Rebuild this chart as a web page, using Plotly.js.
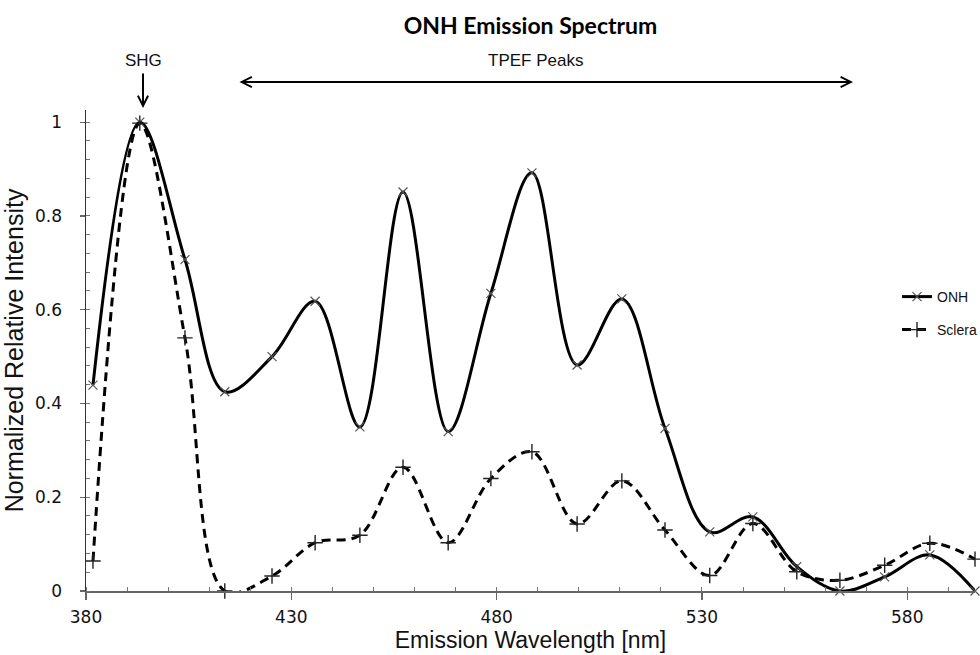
<!DOCTYPE html>
<html>
<head>
<meta charset="utf-8">
<script src="https://cdn.plot.ly/plotly-3.0.1.min.js"></script>
<style>
  html, body { margin: 0; padding: 0; background: #fff; }
  #chart { width: 980px; height: 655px; }
</style>
</head>
<body>
<div id="chart"></div>
<script>
// Emission wavelength [nm] of each measured point
const wavelength = [381.7, 393.1, 404.1, 413.8, 425.3, 435.8, 446.7, 457.2, 468.2, 478.6, 488.6,
                    499.6, 510.5, 521.0, 531.9, 542.4, 553.1, 563.6, 574.5, 585.5, 596.5];
// Normalized relative intensity – ONH
const onh = [0.439, 1.0, 0.707, 0.425, 0.50, 0.618, 0.35, 0.851, 0.34, 0.635, 0.892,
             0.482, 0.623, 0.347, 0.126, 0.158, 0.052, 0.0, 0.03, 0.077, 0.0];
// Normalized relative intensity – Sclera
const sclera = [0.064, 0.998, 0.54, 0.0, 0.032, 0.103, 0.119, 0.264, 0.103, 0.24, 0.297,
                0.143, 0.235, 0.13, 0.033, 0.144, 0.041, 0.023, 0.055, 0.102, 0.068];

const xTicks = [380, 430, 480, 530, 580];
const yTicks = [0, 0.2, 0.4, 0.6, 0.8, 1];
const yTickText = ['0', '0.2', '0.4', '0.6', '0.8', '1'];

const traces = [
  {
    x: wavelength, y: onh, name: 'ONH', type: 'scatter', mode: 'lines+markers',
    line: { color: '#000', width: 3, shape: 'spline', smoothing: 1 },
    marker: { symbol: 'x-thin', size: 9, line: { color: '#555', width: 1.2 } },
    cliponaxis: false, legend: 'legend'
  },
  {
    x: wavelength, y: sclera, name: 'Sclera', type: 'scatter', mode: 'lines+markers',
    line: { color: '#000', width: 3, shape: 'spline', smoothing: 1, dash: '9px,6px' },
    marker: { symbol: 'cross-thin', size: 11, line: { color: '#222', width: 1.4 } },
    cliponaxis: false, legend: 'legend2'
  }
];

const L = 86, R = 5, T = 110, B = 64;
const W = 980, H = 655;
const pw = W - L - R, ph = H - T - B;
const px = v => (v - L) / pw;           // pixel -> paper x
const py = v => (H - B - v) / ph;       // pixel -> paper y

const legendFont = { family: 'Liberation Sans, Arial, sans-serif', size: 14, color: '#111' };

const layout = {
  width: W, height: H,
  margin: { l: L, r: R, t: T, b: B, autoexpand: false },
  paper_bgcolor: '#fff', plot_bgcolor: '#fff',
  showlegend: true,
  title: {
    text: '<b>ONH Emission Spectrum</b>',
    font: { family: 'Lato, "Open Sans", sans-serif', size: 23, color: '#000' },
    x: 0.5, xref: 'paper', xanchor: 'center', y: 1 - 26 / H, yanchor: 'middle'
  },
  xaxis: {
    range: [380, 596.5], showgrid: false, zeroline: false, automargin: false,
    showline: true, linecolor: '#666', linewidth: 1.5,
    tickvals: xTicks, ticks: 'outside', ticklen: 7, tickcolor: '#666', tickwidth: 1.5,
    minor: { dtick: 10, ticks: 'inside', ticklen: 4, tickcolor: '#777', tickwidth: 1, showgrid: false },
    tickfont: { family: 'DejaVu Sans, sans-serif', size: 17, color: '#111' },
    ticklabelstandoff: 3,
    title: { text: 'Emission Wavelength [nm]', font: { family: 'Liberation Sans, Arial, sans-serif', size: 23, color: '#111' }, standoff: 4 }
  },
  yaxis: {
    range: [0, 1.026], showgrid: false, zeroline: false, automargin: false,
    showline: true, linecolor: '#333', linewidth: 1.5,
    tickvals: yTicks, ticktext: yTickText, ticks: 'outside', ticklen: 5, tickcolor: '#666', tickwidth: 1.2,
    minor: { dtick: 0.04, ticks: 'inside', ticklen: 4, tickcolor: '#777', tickwidth: 1, showgrid: false },
    tickfont: { family: 'DejaVu Sans, sans-serif', size: 17, color: '#111' },
    ticklabelstandoff: 14,
    title: { text: 'Normalized Relative Intensity', font: { family: 'Liberation Sans, Arial, sans-serif', size: 25, color: '#111' }, standoff: 6 }
  },
  legend: {
    x: px(897), y: py(297), xanchor: 'left', yanchor: 'middle',
    bgcolor: 'rgba(0,0,0,0)', borderwidth: 0, font: legendFont
  },
  legend2: {
    x: px(897), y: py(330), xanchor: 'left', yanchor: 'middle',
    bgcolor: 'rgba(0,0,0,0)', borderwidth: 0, font: legendFont
  },
  annotations: [
    { text: 'SHG', xref: 'paper', yref: 'paper', x: px(143), y: py(60), showarrow: false,
      xanchor: 'center', yanchor: 'middle',
      font: { family: 'Liberation Sans, Arial, sans-serif', size: 17, color: '#111' } },
    { text: '', xref: 'paper', yref: 'paper', x: px(143), y: py(108), ax: 0, ay: -36,
      showarrow: true, arrowhead: 5, arrowsize: 1, arrowwidth: 2, arrowcolor: '#000' },
    { text: 'TPEF Peaks', xref: 'paper', yref: 'paper', x: px(535), y: py(60), showarrow: false,
      xanchor: 'center', yanchor: 'middle',
      font: { family: 'Liberation Sans, Arial, sans-serif', size: 17, color: '#111' } },
    { text: '', xref: 'paper', yref: 'paper', x: px(853), y: py(82), ax: -615, ay: 0,
      showarrow: true, arrowhead: 5, startarrowhead: 5, arrowside: 'end+start',
      arrowsize: 1, startarrowsize: 1, arrowwidth: 2, arrowcolor: '#000' }
  ]
};

Plotly.newPlot('chart', traces, layout, { displayModeBar: false, staticPlot: true });
</script>
</body>
</html>
